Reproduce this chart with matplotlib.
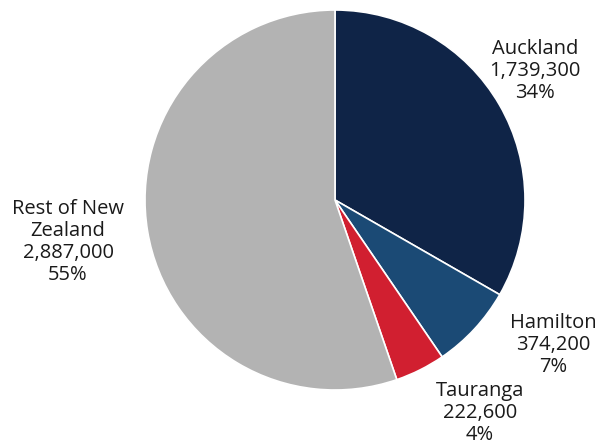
import matplotlib
matplotlib.use("Agg")
import matplotlib.pyplot as plt

categories = ["Auckland", "Hamilton", "Tauranga", "Rest of New\nZealand"]
values = [1739300, 374200, 222600, 2887000]
value_labels = ["1,739,300", "374,200", "222,600", "2,887,000"]
pct_labels = ["34%", "7%", "4%", "55%"]
colors = ["#0f2447", "#1b4a75", "#d11f30", "#b3b3b3"]

W, H = 598, 443
fig = plt.figure(figsize=(W / 100, H / 100), dpi=100)
ax = fig.add_axes([0, 0, 1, 1])

ax.pie(values, colors=colors, startangle=90, counterclock=False,
       center=(335, H - 200), radius=190,
       wedgeprops=dict(edgecolor="white", linewidth=1.2), frame=True)
ax.set_xlim(0, W)
ax.set_ylim(0, H)
ax.set_aspect("equal")
ax.axis("off")

label_pos = [(535, H - 71), (553, H - 345), (480, H - 413), (68, H - 242)]
for cat, v, p, (x, y) in zip(categories, value_labels, pct_labels, label_pos):
    ax.text(x, y, f"{cat}\n{v}\n{p}", ha="center", va="center",
            fontsize=14.5, family="Open Sans", color="#1a1a1a", linespacing=1.15)

fig.savefig("out.png", dpi=100)
